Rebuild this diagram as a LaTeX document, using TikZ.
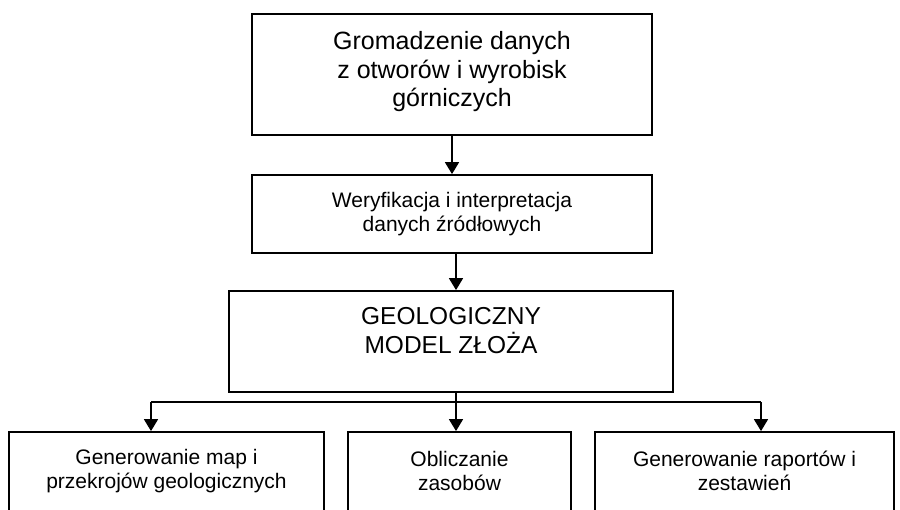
\documentclass[tikz,border=0pt]{standalone}
\usepackage{fontspec}
\setmainfont{Liberation Sans}
\usetikzlibrary{arrows.meta}
\begin{document}
\begin{tikzpicture}[x=1pt,y=-1pt,
  box/.style={draw=black,line width=1.8pt,rectangle,inner sep=0pt},
  arr/.style={line width=1.6pt,-{Triangle[length=12pt,width=14pt]}},
  bigtxt/.style={align=center,font=\fontsize{25}{28.5}\selectfont},
  geotxtst/.style={align=center,font=\fontsize{24.5}{29}\selectfont},
  smalltxt/.style={align=center,font=\fontsize{21}{23.5}\selectfont}]
\useasboundingbox (0,0) rectangle (900,509);
\clip (0,0) rectangle (900,509);
\fill[white] (0,0) rectangle (900,509);
% boxes
\node[box,minimum width=400pt,minimum height=121pt] (top) at (452,74.5) {};
\node[bigtxt] (toptxt) at (452,72) {Gromadzenie danych\\z otworów i wyrobisk\\górniczych};
\node[box,minimum width=400pt,minimum height=78pt,smalltxt] (ver) at (452,214) {Weryfikacja i interpretacja\\danych źródłowych};
\node[box,minimum width=444pt,minimum height=101pt] (geo) at (451,341.5) {};
\node[geotxtst] (geotxt) at (451,331) {GEOLOGICZNY\\MODEL ZŁOŻA};
\node[box,minimum width=315pt,minimum height=128pt] (left) at (166.5,496) {};
\node[box,minimum width=223pt,minimum height=128pt] (mid) at (459.5,496) {};
\node[box,minimum width=299pt,minimum height=128pt] (right) at (744.5,496) {};
\node[smalltxt] (lefttxt) at (166.5,471) {Generowanie map i\\przekrojów geologicznych};
\node[smalltxt] (midtxt) at (459.5,471) {Obliczanie\\zasobów};
\node[smalltxt] (righttxt) at (744.5,471) {Generowanie raportów i\\zestawień};
% connectors
\coordinate (hub) at (456,402);
\coordinate (aL) at (151,402);
\coordinate (aR) at (761,402);
\draw[arr] (top.south) -- (ver.north);
\draw[arr] ([xshift=4pt]ver.south) -- ([xshift=4pt]ver.south |- geo.north);
\draw[line width=1.6pt] (geo.south -| hub) -- (hub);
\draw[line width=1.6pt] (aL) -- (aR);
\draw[arr] (hub) -- (hub |- mid.north);
\draw[arr] (aL) -- (aL |- left.north);
\draw[arr] (aR) -- (aR |- right.north);
\end{tikzpicture}
\end{document}
